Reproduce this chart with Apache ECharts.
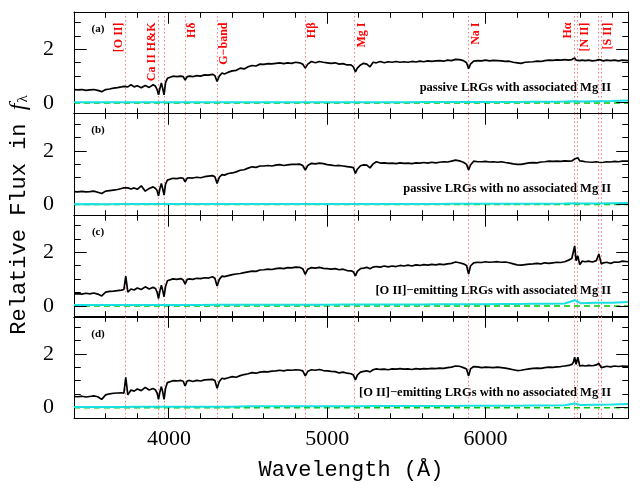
<!DOCTYPE html>
<html><head><meta charset="utf-8">
<script src="https://cdn.jsdelivr.net/npm/echarts@6/dist/echarts.min.js"></script>
<style>html,body{margin:0;padding:0;background:#fff}#c{width:640px;height:489px}</style>
</head><body><div id="c"></div>
<script>
// ---------------- data ----------------
const wave = [
  3400,3425,3450,3475,3500,3525,3550,3575,3600,3625,
  3650,3675,3700,3715,3727,3740,3760,3780,3800,3825,
  3850,3875,3900,3915,3925,3934,3943,3952,3960,3969,
  3978,3990,4000,4025,4050,4075,4090,4102,4115,4130,
  4150,4175,4200,4225,4250,4275,4290,4304,4318,4335,
  4350,4375,4400,4425,4450,4475,4500,4525,4550,4575,
  4600,4625,4650,4675,4700,4725,4750,4775,4800,4825,
  4845,4861,4877,4900,4925,4950,4975,5000,5025,5050,
  5075,5100,5125,5150,5165,5178,5190,5210,5230,5250,
  5270,5290,5310,5335,5360,5385,5410,5435,5460,5485,
  5510,5535,5560,5585,5610,5635,5660,5685,5710,5735,
  5760,5785,5810,5835,5860,5880,5893,5905,5925,5950,
  5975,6000,6025,6050,6075,6100,6125,6150,6175,6200,
  6225,6250,6275,6300,6325,6350,6375,6400,6425,6450,
  6475,6500,6525,6545,6555,6563,6572,6583,6595,6610,
  6630,6650,6675,6700,6716,6731,6745,6765,6790,6815,
  6840,6865,6900
];
const fluxA = [
  0.50,0.49,0.50,0.47,0.49,0.50,0.47,0.42,0.50,0.52,
  0.55,0.57,0.60,0.62,0.58,0.60,0.68,0.60,0.64,0.57,
  0.65,0.58,0.68,0.62,0.50,0.30,0.55,0.75,0.55,0.30,
  0.75,0.92,0.97,1.00,0.98,1.00,0.98,0.85,0.98,1.00,
  0.98,1.02,1.00,1.05,1.04,1.07,1.02,0.80,1.00,1.12,
  1.08,1.15,1.20,1.22,1.30,1.27,1.35,1.40,1.38,1.45,
  1.44,1.47,1.46,1.48,1.50,1.47,1.50,1.48,1.52,1.50,
  1.45,1.30,1.45,1.55,1.50,1.55,1.52,1.50,1.48,1.50,
  1.45,1.47,1.42,1.42,1.35,1.16,1.30,1.42,1.48,1.45,
  1.35,1.52,1.50,1.55,1.50,1.54,1.52,1.55,1.52,1.54,
  1.52,1.55,1.53,1.56,1.54,1.57,1.55,1.57,1.58,1.56,
  1.60,1.58,1.63,1.62,1.58,1.50,1.28,1.45,1.56,1.58,
  1.57,1.60,1.57,1.59,1.58,1.57,1.55,1.56,1.52,1.50,
  1.48,1.52,1.53,1.54,1.56,1.55,1.58,1.60,1.59,1.61,
  1.60,1.62,1.60,1.62,1.60,1.68,1.60,1.62,1.58,1.60,
  1.58,1.60,1.57,1.59,1.62,1.60,1.57,1.60,1.58,1.60,
  1.57,1.60,1.58
];
const fluxB = [
  0.48,0.47,0.49,0.47,0.48,0.50,0.46,0.41,0.50,0.52,
  0.54,0.56,0.60,0.62,0.60,0.62,0.58,0.62,0.57,0.70,
  0.50,0.60,0.66,0.60,0.52,0.32,0.60,0.79,0.60,0.35,
  0.75,0.91,0.97,0.98,0.97,1.00,0.98,0.85,0.99,1.00,
  0.99,1.02,1.00,1.04,1.06,1.08,1.04,0.79,1.02,1.12,
  1.10,1.16,1.18,1.22,1.28,1.30,1.36,1.41,1.39,1.44,
  1.44,1.46,1.44,1.47,1.49,1.46,1.48,1.50,1.50,1.51,
  1.46,1.29,1.46,1.54,1.52,1.55,1.53,1.49,1.47,1.45,
  1.46,1.44,1.42,1.40,1.38,1.16,1.32,1.45,1.48,1.47,
  1.37,1.52,1.60,1.55,1.56,1.54,1.55,1.53,1.56,1.54,
  1.55,1.53,1.56,1.55,1.57,1.55,1.58,1.56,1.58,1.60,
  1.59,1.62,1.66,1.63,1.58,1.50,1.29,1.48,1.62,1.60,
  1.60,1.61,1.59,1.60,1.58,1.60,1.57,1.55,1.52,1.50,
  1.50,1.53,1.56,1.57,1.56,1.59,1.60,1.62,1.61,1.62,
  1.61,1.63,1.62,1.63,1.64,1.70,1.66,1.75,1.63,1.62,
  1.60,1.59,1.58,1.60,1.58,1.57,1.58,1.60,1.59,1.61,
  1.60,1.62,1.62
];
const fluxC = [
  0.46,0.47,0.45,0.48,0.46,0.49,0.45,0.38,0.52,0.55,
  0.56,0.58,0.60,0.62,1.12,0.52,0.64,0.60,0.68,0.62,
  0.72,0.64,0.70,0.66,0.52,0.28,0.58,0.78,0.60,0.35,
  0.72,0.95,1.00,1.02,1.00,1.03,0.98,0.82,1.00,1.02,
  1.00,1.04,1.03,1.06,1.05,1.10,1.04,0.75,1.00,1.12,
  1.10,1.14,1.18,1.20,1.22,1.25,1.28,1.31,1.30,1.35,
  1.36,1.38,1.37,1.40,1.42,1.40,1.44,1.43,1.46,1.45,
  1.40,1.19,1.38,1.44,1.42,1.45,1.41,1.40,1.38,1.40,
  1.36,1.38,1.33,1.32,1.28,1.13,1.30,1.40,1.42,1.45,
  1.40,1.46,1.48,1.46,1.50,1.47,1.50,1.48,1.52,1.50,
  1.53,1.50,1.54,1.52,1.55,1.53,1.56,1.54,1.57,1.55,
  1.58,1.60,1.65,1.62,1.58,1.52,1.20,1.50,1.62,1.64,
  1.63,1.66,1.64,1.65,1.66,1.64,1.65,1.62,1.58,1.54,
  1.53,1.55,1.57,1.58,1.60,1.58,1.62,1.60,1.62,1.64,
  1.63,1.66,1.72,1.78,1.80,2.25,1.70,1.88,1.55,1.68,
  1.66,1.68,1.65,1.70,1.95,1.58,1.62,1.64,1.60,1.65,
  1.64,1.68,1.66
];
const fluxD = [
  0.42,0.41,0.43,0.40,0.42,0.44,0.41,0.31,0.48,0.52,
  0.54,0.55,0.56,0.54,1.14,0.48,0.66,0.62,0.70,0.64,
  0.76,0.66,0.72,0.66,0.55,0.31,0.60,0.79,0.60,0.31,
  0.72,0.94,0.99,1.01,1.00,1.02,0.99,0.81,1.00,1.02,
  0.98,1.02,1.00,1.04,1.05,1.06,1.02,0.73,0.98,1.10,
  1.08,1.12,1.16,1.14,1.20,1.24,1.27,1.31,1.29,1.33,
  1.35,1.34,1.37,1.38,1.40,1.38,1.41,1.40,1.42,1.41,
  1.38,1.19,1.36,1.42,1.40,1.43,1.39,1.38,1.36,1.35,
  1.30,1.33,1.29,1.27,1.22,1.04,1.22,1.33,1.36,1.38,
  1.34,1.42,1.45,1.43,1.44,1.42,1.45,1.44,1.46,1.44,
  1.45,1.43,1.46,1.44,1.46,1.45,1.47,1.46,1.48,1.47,
  1.50,1.52,1.56,1.55,1.50,1.45,1.19,1.45,1.54,1.53,
  1.50,1.52,1.51,1.50,1.52,1.50,1.48,1.45,1.42,1.39,
  1.40,1.43,1.45,1.47,1.48,1.47,1.50,1.52,1.51,1.53,
  1.54,1.56,1.58,1.62,1.70,1.89,1.62,1.89,1.56,1.58,
  1.56,1.58,1.57,1.60,1.66,1.50,1.52,1.55,1.53,1.56,
  1.54,1.56,1.55
];
const errWave = [
  3400,3500,3600,3700,3800,3900,4000,4100,4200,4300,
  4400,4500,4600,4700,4800,4900,5000,5100,5200,5300,
  5400,5500,5600,5700,5800,5900,6000,6100,6200,6300,
  6400,6500,6563,6600,6700,6800,6900
];
const errA = [
  0.02,0.02,0.02,0.02,0.02,0.02,0.02,0.02,0.02,0.02,
  0.02,0.02,0.02,0.02,0.02,0.02,0.02,0.02,0.02,0.02,
  0.02,0.02,0.03,0.03,0.03,0.03,0.03,0.03,0.03,0.04,
  0.04,0.05,0.06,0.05,0.06,0.07,0.09
];
const errB = [
  0.01,0.02,0.01,0.02,0.02,0.02,0.02,0.02,0.02,0.02,
  0.02,0.02,0.02,0.02,0.02,0.02,0.02,0.02,0.02,0.02,
  0.02,0.02,0.02,0.02,0.03,0.03,0.03,0.03,0.03,0.03,
  0.03,0.04,0.05,0.04,0.04,0.05,0.06
];
const errC = [
  0.04,0.04,0.04,0.04,0.04,0.04,0.04,0.04,0.04,0.05,
  0.05,0.05,0.05,0.05,0.05,0.05,0.05,0.06,0.06,0.06,
  0.06,0.06,0.06,0.07,0.07,0.07,0.07,0.08,0.08,0.09,
  0.09,0.10,0.22,0.11,0.13,0.13,0.15
];
const errD = [
  0.03,0.03,0.03,0.03,0.04,0.04,0.04,0.04,0.04,0.04,
  0.04,0.05,0.05,0.05,0.05,0.05,0.05,0.05,0.05,0.06,
  0.06,0.06,0.06,0.06,0.06,0.07,0.07,0.07,0.07,0.08,
  0.08,0.09,0.16,0.10,0.11,0.12,0.14
];
const featureWaves = [3727,3934,3969,4102,4304,4861,5175,5893,6563,6583,6716,6731];
const labelNames = ['[O II]','Ca II H&K','Hδ','G−band','Hβ','Mg I','Na I','Hα','[N II]','[S II]'];
const labelWaves = [3727,3934,4102,4304,4861,5175,5893,6563,6583,6731];
const labelSide  = [-1,-1,1,1,1,1,1,-1,1,1];
const panelTags  = ['(a)','(b)','(c)','(d)'];
const panelNotes = [
  'passive LRGs with associated Mg II',
  'passive LRGs with no associated Mg II',
  '[O II]−emitting LRGs with associated Mg II',
  '[O II]−emitting LRGs with no associated Mg II'
];
const xMajor = [4000,5000,6000];
const xMinor = [3600,3800,4200,4400,4600,4800,5200,5400,5600,5800,6200,6400,6600,6800];
const yMajor = [0,2];
const yMinor = [0.5,1,1.5,2.5,3];
const xMin = 3400, xMax = 6900, yMin = -0.4, yMax = 3.4;

// ---------------- chart ----------------
const chart = echarts.init(document.getElementById('c'));
const L = 74, R = 12, T0 = 12, H = 101.6;
const fluxes = [fluxA,fluxB,fluxC,fluxD];
const errs = [errA,errB,errC,errD];
const serif = '"Liberation Serif", serif';
const grids = [], xAxes = [], yAxes = [], series = [], specIdx = [];
const fmt = v => String(v);
const TICK = {xMajor: 11, xMinor: 5, yMajor: 12, yMinor: 6};
const xTicks = xMajor.map(v => [v, 1]).concat(xMinor.map(v => [v, 0])).sort((a, b) => a[0] - b[0]);
const yTicks = yMajor.map(v => [v, 1]).concat(yMinor.map(v => [v, 0])).sort((a, b) => a[0] - b[0]);
const crisp = v => Math.round(v - 0.5) + 0.5;

function xAx(g, pos, labels) {
  return {
    gridIndex: g, type: 'value', min: xMin, max: xMax, position: pos,
    axisLine: {show: true, onZero: false, lineStyle: {color: '#000', width: 1}},
    axisTick: {show: false},
    axisLabel: labels ? {show: true, customValues: xMajor, formatter: fmt, fontFamily: serif, fontSize: 22, color: '#000', margin: 10} : {show: false},
    splitLine: {show: false}
  };
}
function yAx(g, pos, labels) {
  return {
    gridIndex: g, type: 'value', min: yMin, max: yMax, position: pos,
    axisLine: {show: true, onZero: false, lineStyle: {color: '#000', width: 1}},
    axisTick: {show: false},
    axisLabel: labels ? {show: true, customValues: yMajor, formatter: fmt, fontFamily: serif, fontSize: 22, color: '#000', margin: 20} : {show: false},
    splitLine: {show: false}
  };
}
// guide lines: dotted feature lines (code 1), dashed zero line (code 0),
// and the inward tick "combs" along each side of the frame (codes 2..5)
function guideSeries(xb, yb) {
  const data = featureWaves.map(w => [w, 0, 1])
    .concat([[xMin, 0, 0], [xMin, yMin, 2], [xMin, yMin, 3], [xMin, yMin, 4], [xMin, yMin, 5]]);
  return {
    type: 'custom', xAxisIndex: xb, yAxisIndex: yb, silent: true, animation: false, z: 3, clip: false,
    data: data,
    renderItem: (params, api) => {
      const cs = params.coordSys;
      const code = api.value(2);
      if (code === 1) {
        const x = crisp(api.coord([api.value(0), 0])[0]);
        return {type: 'line', shape: {x1: x, y1: cs.y, x2: x, y2: cs.y + cs.height},
          style: {stroke: '#ff7a7a', lineWidth: 1, lineDash: [1.5, 2.5]}};
      }
      if (code === 0) {
        const y = api.coord([xMin, 0])[1];
        return {type: 'line', shape: {x1: cs.x, y1: y, x2: cs.x + cs.width, y2: y},
          style: {stroke: '#00c800', lineWidth: 1.5, lineDash: [6, 4]}};
      }
      const pts = [];
      if (code === 2 || code === 3) {
        const y0 = crisp(code === 2 ? cs.y + cs.height : cs.y);
        const dir = code === 2 ? -1 : 1;
        pts.push([cs.x, y0]);
        xTicks.forEach(t => {
          const x = crisp(api.coord([t[0], yMin])[0]);
          const len = t[1] ? TICK.xMajor : TICK.xMinor;
          pts.push([x, y0], [x, y0 + dir * len], [x, y0]);
        });
        pts.push([cs.x + cs.width, y0]);
      } else {
        const x0 = crisp(code === 4 ? cs.x : cs.x + cs.width);
        const dir = code === 4 ? 1 : -1;
        pts.push([x0, cs.y + cs.height]);
        yTicks.forEach(t => {
          const y = crisp(api.coord([xMin, t[0]])[1]);
          const len = t[1] ? TICK.yMajor : TICK.yMinor;
          pts.push([x0, y], [x0 + dir * len, y], [x0, y]);
        });
        pts.push([x0, cs.y]);
      }
      return {type: 'polyline', shape: {points: pts},
        style: {stroke: '#000', lineWidth: 1, fill: 'none', lineJoin: 'bevel'}};
    }
  };
}

for (let i = 0; i < 4; i++) {
  const g = grids.length;
  grids.push({left: L, right: R, top: T0 + i * H, height: H});
  const xb = xAxes.length;
  xAxes.push(xAx(g, 'bottom', i === 3));
  xAxes.push(xAx(g, 'top', false));
  const yb = yAxes.length;
  yAxes.push(yAx(g, 'left', true));
  yAxes.push(yAx(g, 'right', false));

  series.push(guideSeries(xb, yb));
  series.push({
    type: 'line', xAxisIndex: xb, yAxisIndex: yb, z: 6,
    data: errWave.map((w, k) => [w, errs[i][k]]),
    symbol: 'none', showSymbol: false, animation: false, silent: true,
    lineStyle: {color: '#19e0e0', width: 2}
  });
  specIdx.push(series.length);
  series.push({
    type: 'line', xAxisIndex: xb, yAxisIndex: yb, z: 7,
    data: wave.map((w, k) => [w, fluxes[i][k]]),
    symbol: 'none', showSymbol: false, animation: false, silent: true,
    lineStyle: {color: '#000', width: 1.7}
  });
}

chart.setOption({
  animation: false,
  backgroundColor: '#fff',
  grid: grids, xAxis: xAxes, yAxis: yAxes, series: series
});

// ---------------- texts ----------------
const graphics = [];
const lblFont = 'bold 12px "Liberation Serif"';
labelNames.forEach((name, k) => {
  const p = chart.convertToPixel({seriesIndex: specIdx[0]}, [labelWaves[k], yMax]);
  graphics.push({
    type: 'text', x: p[0] + labelSide[k] * 7, y: p[1] + 10.5, rotation: Math.PI / 2,
    style: {text: name, fill: '#ff0000', font: lblFont, align: 'right', verticalAlign: 'middle'}
  });
});
for (let i = 0; i < 4; i++) {
  const pTop = chart.convertToPixel({seriesIndex: specIdx[i]}, [xMin, yMax]);
  const pR = chart.convertToPixel({seriesIndex: specIdx[i]}, [xMax, yMax]);
  graphics.push({
    type: 'text', x: pTop[0] + 24, y: pTop[1] + 17,
    style: {text: panelTags[i], fill: '#000', font: 'bold 11px "Liberation Serif"', align: 'center', verticalAlign: 'middle'}
  });
  graphics.push({
    type: 'text', x: pR[0] - 17, y: pTop[1] + 75.5,
    style: {text: panelNotes[i], fill: '#000', font: 'bold 12.5px "Liberation Serif"', align: 'right', verticalAlign: 'middle'}
  });
}
graphics.push({
  type: 'text', x: 351, y: 470,
  style: {text: 'Wavelength (Å)', fill: '#000', font: '22px "Liberation Mono"', align: 'center', verticalAlign: 'middle'}
});
graphics.push({
  type: 'text', x: 19, y: 215, rotation: Math.PI / 2,
  style: {
    text: 'Relative Flux in {i|f}{s|λ}', fill: '#000', font: '22px "Liberation Mono"',
    align: 'center', verticalAlign: 'middle',
    rich: {
      i: {fontFamily: 'Liberation Serif', fontStyle: 'italic', fontSize: 24, fill: '#000'},
      s: {fontFamily: 'Liberation Serif', fontSize: 15, verticalAlign: 'bottom', padding: [8, 0, 0, 1], fill: '#000'}
    }
  }
});
chart.setOption({graphic: graphics});
</script>
</body></html>
